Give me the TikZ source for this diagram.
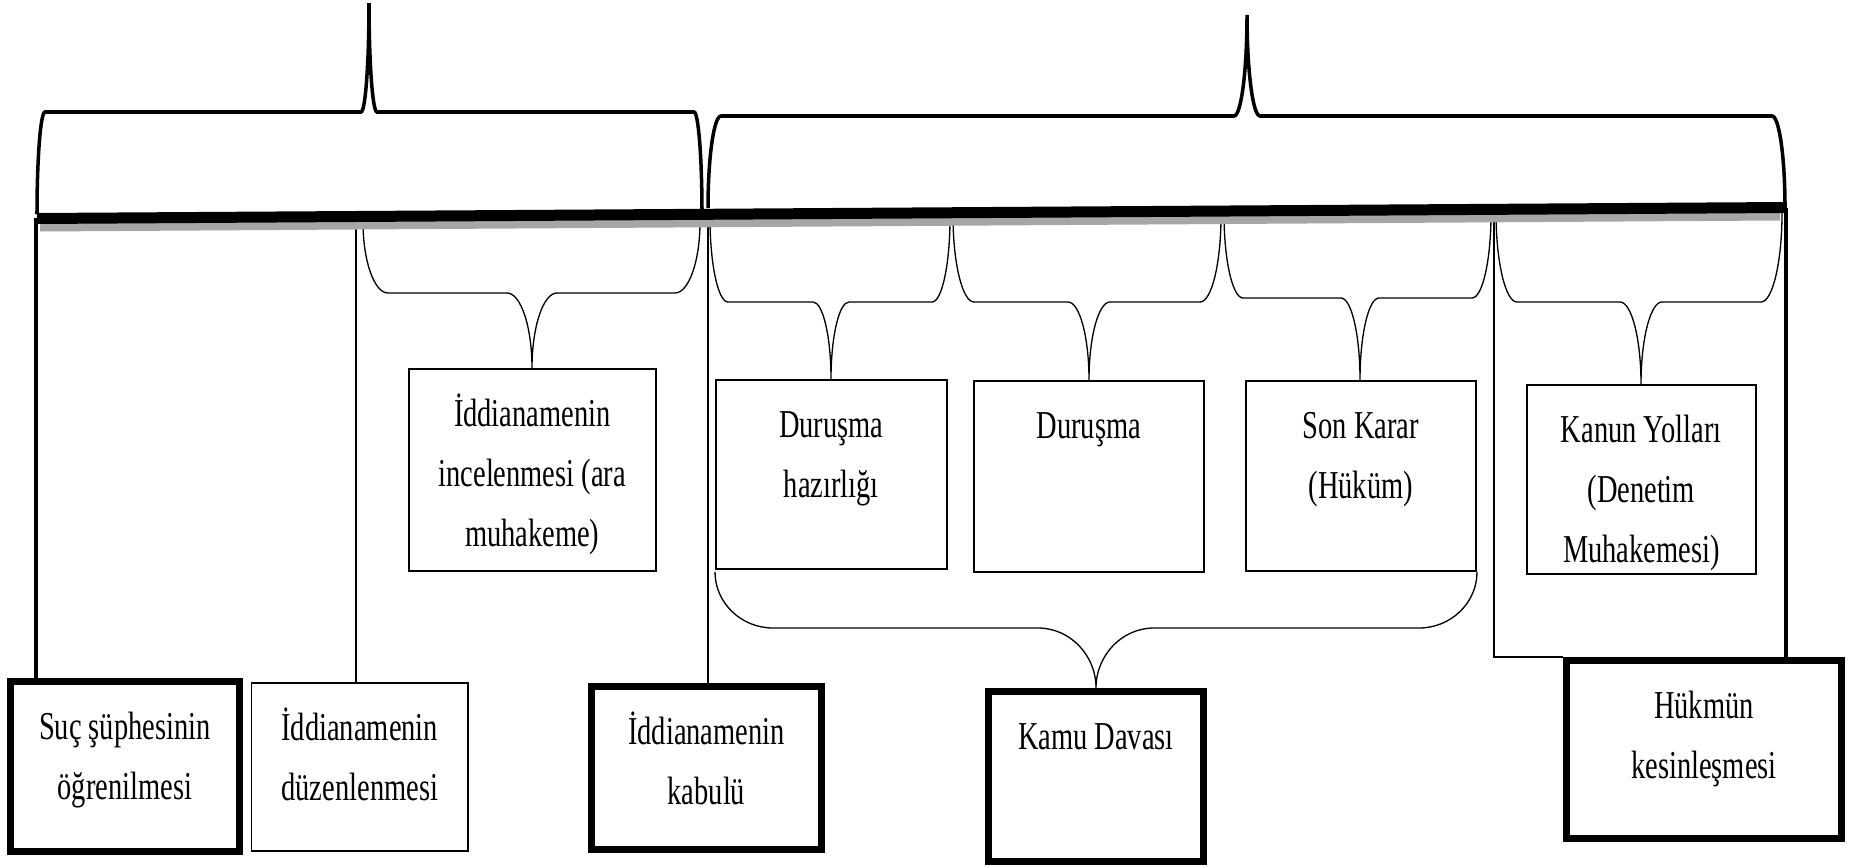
\documentclass[tikz,border=0pt]{standalone}
\usepackage{fontspec}
\setmainfont{Liberation Serif}[FakeStretch=0.72]
\newlength{\bpx}
\setlength{\bpx}{0.02cm}
\newcommand{\kutuyazi}[3]{\parbox[t][#2\bpx][t]{#1\bpx}{\centering\rule{0pt}{58\bpx}#3}}
% [stil] x1, xtip, x2, yuc, yorta, ytip, yaricap
\newcommand{\kume}[8][]{%
  \draw[#1] (#2,#5) .. controls (#2,{#5+0.55*(#6-#5)}) and ({#2+0.45*#8},#6) .. ({#2+#8},#6)
    -- ({#3-#8},#6) .. controls ({#3-0.45*#8},#6) and (#3,{#7+0.55*(#6-#7)}) .. (#3,#7)
    .. controls (#3,{#7+0.55*(#6-#7)}) and ({#3+0.45*#8},#6) .. ({#3+#8},#6)
    -- ({#4-#8},#6) .. controls ({#4-0.45*#8},#6) and (#4,{#5+0.55*(#6-#5)}) .. (#4,#5);}
\tikzset{
  incekutu/.style={draw, line width=0.85pt},
  kalinkutu/.style={draw, line width=3.9pt},
  kalincizgi/.style={line width=2.3pt},
  ortacizgi/.style={line width=1.4pt},
  incecizgi/.style={line width=0.7pt},
  ustkume/.style={line width=2pt},
  altkume/.style={line width=0.75pt}
}
\begin{document}
\begin{tikzpicture}[x=0.02cm, y=-0.02cm,
    every node/.style={font=\fontsize{22.5pt}{1.2cm}\selectfont, inner sep=0pt, anchor=north west}]
    \useasboundingbox (0,0) rectangle (1851,866);

    \node[kalinkutu] (suc) at (7,678) {\kutuyazi{229}{170}{Suç şüphesinin\\öğrenilmesi}};
    \node[incekutu] (duzenleme) at (251,682) {\kutuyazi{216}{168}{İddianamenin\\düzenlenmesi}};
    \node[kalinkutu] (kabul) at (588,683) {\kutuyazi{230}{163}{İddianamenin\\kabulü}};
    \node[kalinkutu] (kamu) at (985,688) {\kutuyazi{215}{170}{Kamu Davası}};
    \node[kalinkutu] (hukum) at (1563,657) {\kutuyazi{275}{178}{Hükmün\\kesinleşmesi}};
    \node[incekutu] (incelenme) at (408,368) {\kutuyazi{247}{202}{İddianamenin\\incelenmesi (ara\\muhakeme)}};
    \node[incekutu] (hazirlik) at (715,379) {\kutuyazi{231}{189}{Duruşma\\hazırlığı}};
    \node[incekutu] (durusma) at (973,380) {\kutuyazi{230}{191}{Duruşma}};
    \node[incekutu] (sonkarar) at (1245,380) {\kutuyazi{230}{190}{Son Karar\\(Hüküm)}};
    \node[incekutu] (kanun) at (1526,384) {\kutuyazi{229}{189}{Kanun Yolları\\(Denetim\\Muhakemesi)}};

    \coordinate (s1) at (36,218);
    \coordinate (s2) at (356,216);
    \coordinate (s3) at (708,213);
    \coordinate (s4) at (1494,209);
    \coordinate (s5) at (1786,208);
    \draw[kalincizgi] (s1) -- (s1 |- suc.north);
    \draw[incecizgi] (s2) -- (s2 |- duzenleme.north);
    \draw[ortacizgi] (s3) -- (s3 |- kabul.north);
    \draw[incecizgi] (s4) |- (hukum.north west);
    \draw[kalincizgi] (s5) -- (s5 |- hukum.north);

    \kume[ustkume]{37}{369}{702}{214}{112}{3}{8}
    \kume[ustkume]{708}{1247}{1785}{208}{116}{15}{13}

    \kume[altkume]{363}{532}{700}{222}{293}{368}{25}
    \kume[altkume]{710}{831}{950}{218}{302}{379}{18}
    \kume[altkume]{953}{1089}{1221}{216}{302}{380}{21}
    \kume[altkume]{1224}{1360}{1491}{214}{298}{380}{19}
    \kume[altkume]{1496}{1641}{1782}{213}{302}{384}{21}
    \kume[altkume]{715}{1096}{1477}{572}{628}{688}{58}

    \draw[line width=0.16cm, black!35] (40,227.5) -- (1780,216.5);
    \draw[line width=0.22cm] (37,218.5) -- (1785,207.5);
\end{tikzpicture}
\end{document}
